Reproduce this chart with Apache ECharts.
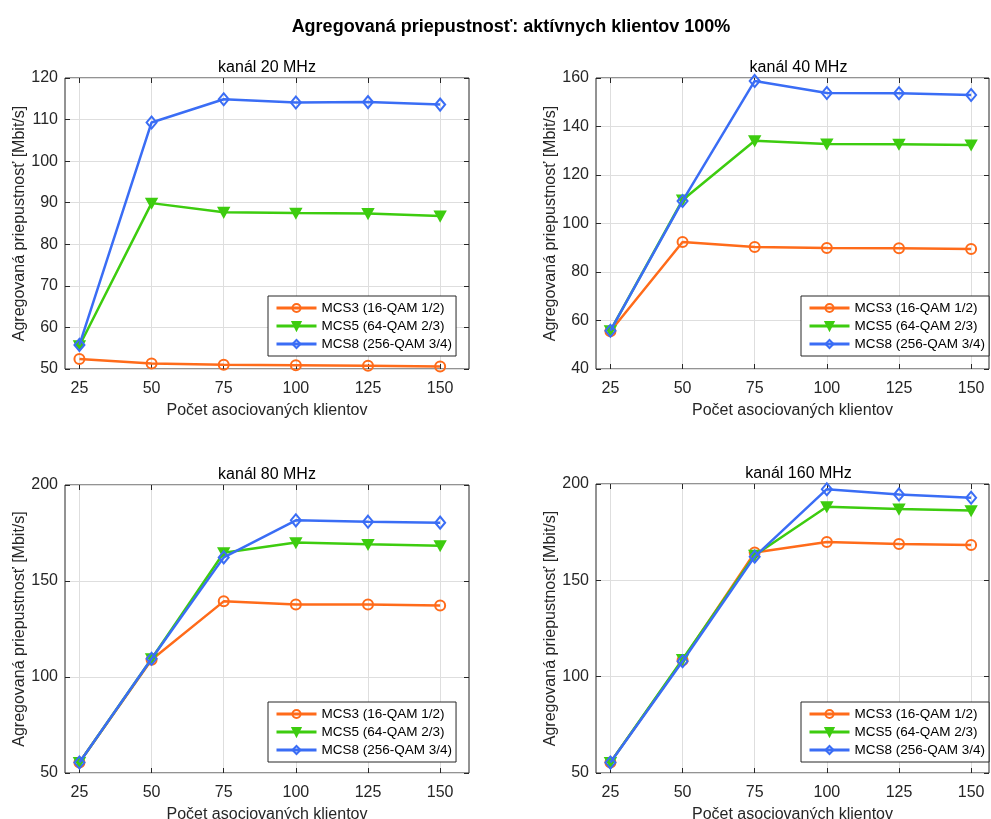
<!DOCTYPE html>
<html>
<head>
<meta charset="utf-8">
<script src="https://cdn.jsdelivr.net/npm/echarts@6/dist/echarts.min.js"></script>
<style>
html,body{margin:0;padding:0;background:#fff;}
#chart{width:991px;height:819px;}
</style>
</head>
<body>
<div id="chart"></div>
<script>
// ---- data ----
const clients = [25, 50, 75, 100, 125, 150];
const seriesNames = ['MCS3 (16-QAM 1/2)', 'MCS5 (64-QAM 2/3)', 'MCS8 (256-QAM 3/4)'];
const panelTitles = ['kanál 20 MHz', 'kanál 40 MHz', 'kanál 80 MHz', 'kanál 160 MHz'];
const mainTitle = 'Agregovaná priepustnosť: aktívnych klientov 100%';
const xAxisTitle = 'Počet asociovaných klientov';
const yAxisTitle = 'Agregovaná priepustnosť [Mbit/s]';

const mcs3_20 = [52.4, 51.3, 51.0, 50.9, 50.8, 50.6];
const mcs5_20 = [55.6, 89.9, 87.7, 87.5, 87.4, 86.8];
const mcs8_20 = [55.8, 109.3, 114.9, 114.1, 114.2, 113.6];

const mcs3_40 = [55.6, 92.4, 90.3, 89.9, 89.8, 89.5];
const mcs5_40 = [55.8, 109.7, 134.1, 132.8, 132.7, 132.4];
const mcs8_40 = [55.8, 109.3, 158.8, 153.8, 153.7, 153.0];

const mcs3_80 = [55.5, 109.0, 139.4, 137.7, 137.7, 137.2];
const mcs5_80 = [55.5, 109.5, 164.7, 170.0, 169.1, 168.4];
const mcs8_80 = [55.5, 109.5, 162.3, 181.6, 180.9, 180.4];

const mcs3_160 = [55.5, 108.5, 164.4, 169.9, 168.8, 168.3];
const mcs5_160 = [55.5, 109.0, 163.0, 188.2, 187.0, 186.2];
const mcs8_160 = [55.4, 108.0, 162.3, 197.3, 194.6, 192.9];

const xTicks = [25, 50, 75, 100, 125, 150];
const yRange20 = [50, 120, 10];
const yRange40 = [40, 160, 20];
const yRange80 = [50, 200, 50];
const yRange160 = [50, 200, 50];

// ---- layout / style ----
const panelData = [
  [mcs3_20, mcs5_20, mcs8_20],
  [mcs3_40, mcs5_40, mcs8_40],
  [mcs3_80, mcs5_80, mcs8_80],
  [mcs3_160, mcs5_160, mcs8_160]
];
const yRanges = [yRange20, yRange40, yRange80, yRange160];
const grids = [
  {left: 65, top: 78, width: 404, height: 291, xmax: 160},
  {left: 596, top: 78, width: 393, height: 291, xmax: 156.2},
  {left: 65, top: 485, width: 404, height: 288, xmax: 160},
  {left: 596, top: 484, width: 393, height: 289, xmax: 156.2}
];
const legendPos = [[268, 296], [801, 296], [268, 702], [801, 702]];
const colors = ['#ff6b1a', '#3dcc0f', '#3a6df5'];
const fills = ['rgba(255,255,255,0)', '#3dcc0f', 'rgba(255,255,255,0)'];
const symbols = ['circle', 'triangle', 'diamond'];
const symbolSizes = [10, [10, 9], [10, 12]];
const symbolRot = [0, 180, 0];
const FONT = 'Liberation Sans, Arial, Helvetica, sans-serif';
const TXT = '#262626';

const option = {
  animation: false,
  backgroundColor: '#fff',
  title: [{
    text: mainTitle, left: 511, top: 18, textAlign: 'center', padding: 0,
    textStyle: {fontFamily: FONT, fontSize: 18, fontWeight: 'bold', color: '#000'}
  }],
  grid: [], xAxis: [], yAxis: [], series: [], legend: []
};

grids.forEach((g, i) => {
  option.grid.push({
    left: g.left, top: g.top, width: g.width, height: g.height,
    show: true, borderColor: TXT, borderWidth: 1, backgroundColor: '#fff',
    containLabel: false, outerBoundsMode: 'none'
  });
  option.title.push({
    text: panelTitles[i], left: g.left + g.width / 2 + (i % 2 ? 6 : 0), top: g.top - 18, textAlign: 'center', padding: 0,
    textStyle: {fontFamily: FONT, fontSize: 16, fontWeight: 'normal', color: '#000'}
  });
  const [ymin, ymax, yint] = yRanges[i];
  option.xAxis.push({
    type: 'value', gridIndex: i, min: 20, max: g.xmax, position: 'bottom',
    name: xAxisTitle, nameLocation: 'middle', nameGap: 34,
    nameTextStyle: {fontFamily: FONT, fontSize: 16, color: TXT},
    axisLine: {show: false},
    axisTick: {show: true, inside: true, length: 5, customValues: xTicks, lineStyle: {color: TXT}},
    axisLabel: {show: true, customValues: xTicks, margin: 12, fontFamily: FONT, fontSize: 16, color: TXT},
    splitLine: {show: true, lineStyle: {color: '#dedede', width: 1}}
  });
  option.xAxis.push({
    type: 'value', gridIndex: i, min: 20, max: g.xmax, position: 'top',
    axisLine: {show: false},
    axisTick: {show: true, inside: true, length: 5, customValues: xTicks, lineStyle: {color: TXT}},
    axisLabel: {show: false, customValues: xTicks},
    splitLine: {show: false}
  });
  option.yAxis.push({
    type: 'value', gridIndex: i, min: ymin, max: ymax, interval: yint, position: 'left',
    name: yAxisTitle, nameLocation: 'middle', nameGap: 36, nameRotate: 90,
    nameTextStyle: {fontFamily: FONT, fontSize: 16, color: TXT},
    axisLine: {show: false},
    axisTick: {show: true, inside: true, length: 5, lineStyle: {color: TXT}},
    axisLabel: {show: true, margin: 7, fontFamily: FONT, fontSize: 16, color: TXT},
    splitLine: {show: true, lineStyle: {color: '#dedede', width: 1}}
  });
  option.yAxis.push({
    type: 'value', gridIndex: i, min: ymin, max: ymax, interval: yint, position: 'right',
    axisLine: {show: false},
    axisTick: {show: true, inside: true, length: 5, lineStyle: {color: TXT}},
    axisLabel: {show: false},
    splitLine: {show: false}
  });
  panelData[i].forEach((vals, s) => {
    option.series.push({
      type: 'line', name: seriesNames[s],
      xAxisIndex: i * 2, yAxisIndex: i * 2,
      data: clients.map((c, k) => [c, vals[k]]),
      symbol: symbols[s], symbolSize: symbolSizes[s], symbolRotate: symbolRot[s],
      showSymbol: true,
      lineStyle: {color: colors[s], width: 2.5},
      itemStyle: {color: fills[s], borderColor: colors[s], borderWidth: 2},
      emphasis: {disabled: true},
      z: 3 + s
    });
  });
  option.legend.push({
    orient: 'vertical', left: legendPos[i][0], top: legendPos[i][1],
    data: seriesNames.map((n, s) => ({
      name: n,
      itemStyle: {color: fills[s], borderColor: colors[s], borderWidth: 2},
      lineStyle: {color: colors[s], width: 3}
    })),
    itemWidth: 40, itemHeight: 10, itemGap: 2,
    padding: [4, 4, 4, 7],
    borderColor: TXT, borderWidth: 1, backgroundColor: '#fff',
    textStyle: {fontFamily: FONT, fontSize: 13.5, color: '#000', lineHeight: 16},
    selectedMode: false, z: 10
  });
});

const chart = echarts.init(document.getElementById('chart'), null, {renderer: 'canvas'});
chart.setOption(option);
</script>
</body>
</html>
